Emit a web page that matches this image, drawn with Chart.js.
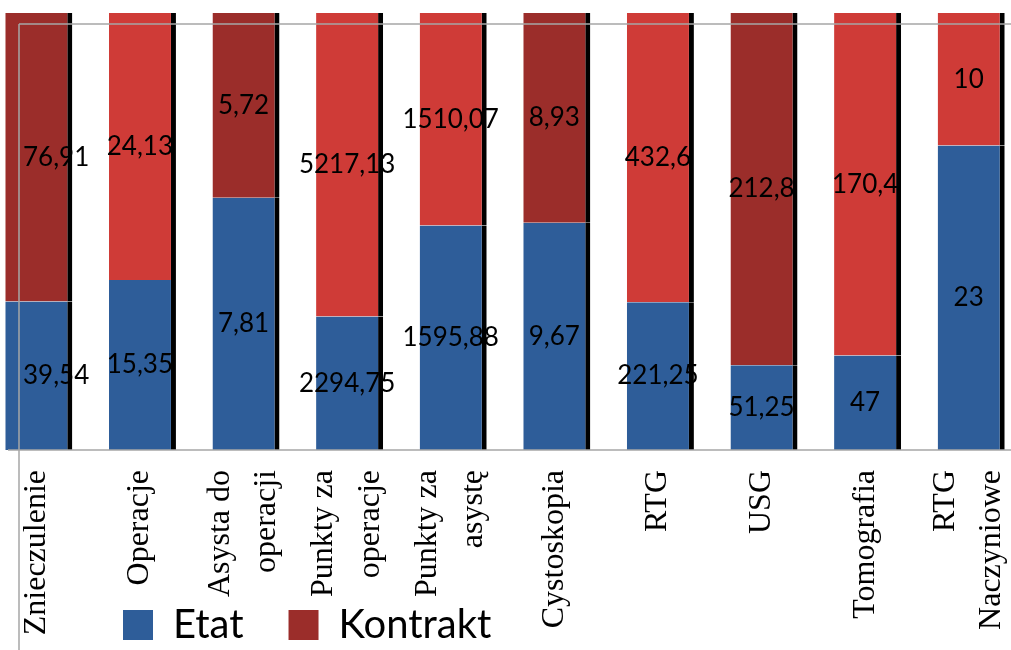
<!DOCTYPE html>
<html>
<head>
<meta charset="utf-8">
<script src="https://cdn.jsdelivr.net/npm/chart.js@4.4.0/dist/chart.umd.min.js"></script>
<style>
  html, body { margin: 0; padding: 0; background: #fff; overflow: hidden; }
  #wrap { position: absolute; left: -13px; top: 0; width: 1036px; height: 650px; }
</style>
</head>
<body>
<div id="wrap"><canvas id="wykres"></canvas></div>
<script>
// Dane
const kategorie = [
    "Znieczulenie",
    "Operacje",
    ["Asysta do", "operacji"],
    ["Punkty za", "operacje"],
    ["Punkty za", "asystę"],
    "Cystoskopia",
    "RTG",
    "USG",
    "Tomografia",
    ["RTG", "Naczyniowe"]
];
const etat = [39.54, 15.35, 7.81, 2294.75, 1595.88, 9.67, 221.25, 51.25, 47, 23];
const kontrakt = [76.91, 24.13, 5.72, 5217.13, 1510.07, 8.93, 432.6, 212.8, 170.4, 10];

// Kolory
const kolorEtat = "#2E5D99";
const ciemny = "#9B2D2A";
const jasny = "#CF3B37";
const koloryKontrakt = [ciemny, jasny, ciemny, jasny, jasny, ciemny, jasny, ciemny, jasny, jasny];
const koloryLegendy = [kolorEtat, ciemny];

// Udział procentowy (wykres 100%)
const sumy = etat.map((v, i) => v + kontrakt[i]);
const etatProc = etat.map((v, i) => v / sumy[i] * 100);
const kontraktProc = kontrakt.map((v, i) => v / sumy[i] * 100);

const xOsi = 32; // pionowa linia osi (w układzie płótna)

// Linie osi i etykiety wartości
const ramka = {
    id: "ramka",
    afterDatasetsDraw(chart) {
        const ctx = chart.ctx;
        const a = chart.chartArea;
        const gora = chart.scales.y.getPixelForValue(97.5);
        ctx.save();
        ctx.strokeStyle = "#a6a6a6";
        ctx.lineWidth = 1.5;
        ctx.beginPath();
        ctx.moveTo(xOsi, gora);
        ctx.lineTo(chart.width, gora);
        ctx.moveTo(21, a.bottom);
        ctx.lineTo(chart.width, a.bottom);
        ctx.moveTo(xOsi, gora);
        ctx.lineTo(xOsi, chart.height);
        ctx.stroke();

        ctx.font = "26px Lato";
        ctx.fillStyle = "#000";
        ctx.textAlign = "center";
        ctx.textBaseline = "middle";
        chart.data.datasets.forEach((ds, di) => {
            chart.getDatasetMeta(di).data.forEach((bar, i) => {
                const tekst = String(ds.wartosci[i]).replace(".", ",");
                const w = ctx.measureText(tekst).width;
                const x = Math.max(bar.x - 2.5, xOsi + 4 + w / 2);
                ctx.fillText(tekst, x, (bar.y + bar.base) / 2);
            });
        });
        ctx.restore();
    }
};

// Legenda pod etykietami osi, etykiety dwuwierszowe wyśrodkowane
const uklad = {
    id: "uklad",
    afterLayout(chart) {
        const l = chart.legend;
        const p = l.options.labels.padding;
        const dx = 136 - (l.left + p);
        const h = l.height;
        l.left += dx;
        l.right += dx;
        l.top = 605 - p;
        l.bottom = l.top + h;

        const x = chart.scales.x;
        const lh = x.options.ticks.font.size * x.options.ticks.font.lineHeight;
        x.getLabelItems(chart.chartArea).forEach(it => {
            if (Array.isArray(it.label) && !it.przesuniete) {
                it.textOffset -= lh * (it.label.length - 1) / 2;
                it.przesuniete = true;
            }
        });
    }
};

function initWykres() {
    const ctx = document.getElementById("wykres").getContext("2d");
    new Chart(ctx, {
        type: "bar",
        data: {
            labels: kategorie,
            datasets: [
                {
                    label: "Etat",
                    data: etatProc,
                    wartosci: etat,
                    backgroundColor: kolorEtat
                },
                {
                    label: "Kontrakt",
                    data: kontraktProc,
                    wartosci: kontrakt,
                    backgroundColor: koloryKontrakt
                }
            ]
        },
        options: {
            responsive: true,
            maintainAspectRatio: false,
            animation: false,
            layout: { padding: { top: 13 } },
            datasets: {
                bar: {
                    barPercentage: 0.647,
                    categoryPercentage: 1,
                    borderColor: "#000",
                    borderWidth: { top: 0, right: 5, bottom: 0, left: 0 },
                    borderSkipped: false
                }
            },
            scales: {
                x: {
                    stacked: true,
                    grid: { display: false, drawTicks: false },
                    border: { display: false },
                    ticks: {
                        autoSkip: false,
                        minRotation: 90,
                        maxRotation: 90,
                        padding: 20,
                        labelOffset: -2.5,
                        color: "#000",
                        font: { family: "'Liberation Serif', 'Times New Roman', serif", size: 32, lineHeight: 1.45 }
                    },
                    afterFit(s) {
                        s.height = s.chart.height - 450 - s.chart.legend.height;
                        s.paddingLeft = 0;
                        s.paddingRight = 0;
                        // etykiety mogą wchodzić pod legendę, jak w oryginale
                        s._computeLabelArea = () => null;
                    }
                },
                y: {
                    stacked: true,
                    display: false,
                    min: 0,
                    max: 100
                }
            },
            plugins: {
                tooltip: { enabled: false },
                legend: {
                    position: "bottom",
                    align: "start",
                    labels: {
                        boxWidth: 30,
                        boxHeight: 30,
                        padding: 45,
                        color: "#000",
                        font: { family: "Lato", size: 40 },
                        generateLabels(chart) {
                            const items = Chart.defaults.plugins.legend.labels.generateLabels(chart);
                            items.forEach((it, i) => {
                                it.fillStyle = koloryLegendy[i];
                                it.strokeStyle = "transparent";
                                it.lineWidth = 0;
                            });
                            return items;
                        }
                    }
                }
            }
        },
        plugins: [ramka, uklad]
    });
}

document.addEventListener("DOMContentLoaded", initWykres);
</script>
</body>
</html>
